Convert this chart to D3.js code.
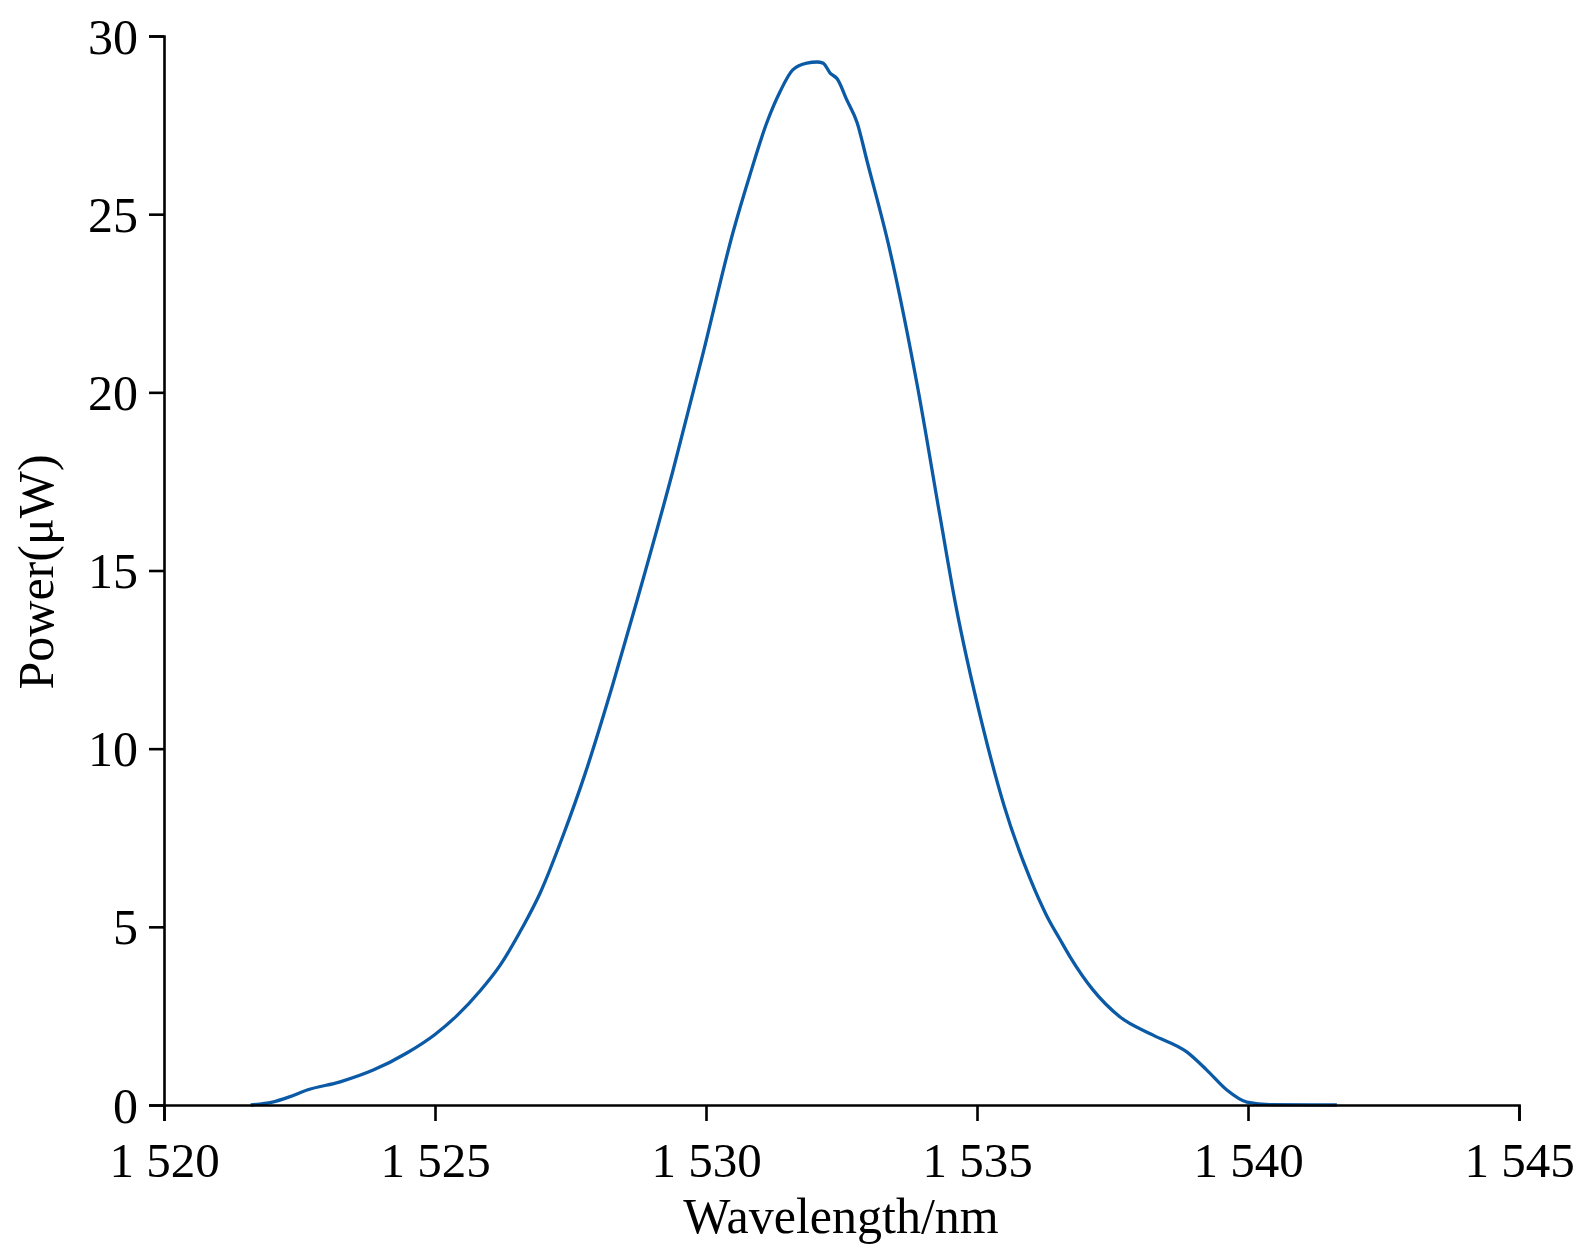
<!DOCTYPE html>
<html>
<head>
<meta charset="utf-8">
<script src="https://cdn.jsdelivr.net/npm/d3@7"></script>
<style>
  html, body { margin: 0; padding: 0; background: #fff; }
  svg { display: block; }
  text { font-family: "Liberation Serif", "Times New Roman", serif; fill: #000; }
</style>
</head>
<body>
<svg id="chart" width="1575" height="1250"></svg>
<script>
// Wavelength (nm)
const wavelength = [1521.6, 1522.0, 1522.3, 1522.64, 1523.25, 1523.86, 1524.48, 1525.0, 1525.4, 1525.83,
  1526.2, 1526.62, 1526.94, 1527.36, 1527.77, 1528.28, 1528.73, 1529.39, 1529.93, 1530.5,
  1530.81, 1531.13, 1531.37, 1531.6, 1531.86, 1532.05, 1532.16, 1532.29, 1532.42, 1532.6,
  1532.79, 1532.97, 1533.39, 1533.89, 1534.32, 1534.59, 1535.11, 1535.5, 1535.98, 1536.29,
  1536.53, 1536.72, 1537.14, 1537.64, 1538.25, 1538.87, 1539.24, 1539.61, 1539.98, 1540.4,
  1541.64];
// Power (µW)
const power = [0, 0.08, 0.22, 0.42, 0.65, 0.98, 1.46, 1.98, 2.5, 3.2,
  3.92, 5.0, 5.95, 7.55, 9.3, 11.8, 14.17, 17.8, 21.0, 24.5,
  26.1, 27.6, 28.45, 29.05, 29.24, 29.27, 29.24, 28.96, 28.8, 28.2,
  27.56, 26.5, 24.0, 20.26, 16.5, 14.17, 10.6, 8.4, 6.35, 5.3,
  4.65, 4.15, 3.23, 2.47, 1.96, 1.49, 0.98, 0.42, 0.08, 0.01,
  0];
const xTicks = [1520, 1525, 1530, 1535, 1540, 1545];
const yTicks = [0, 5, 10, 15, 20, 25, 30];

const svg = d3.select("#chart");
const x = d3.scaleLinear().domain([1520, 1545]).range([164, 1519]);
const y = d3.scaleLinear().domain([0, 30]).range([1105, 36]);
const fsX = 49, fsY = 50, fsT = 50;

// Curve
const data = wavelength.map((w, i) => ({ w, p: power[i] }));
svg.append("path")
  .datum(data)
  .attr("fill", "none")
  .attr("stroke", "#0b5aa6")
  .attr("stroke-width", 3.3)
  .attr("stroke-linejoin", "round")
  .attr("d", d3.line().x(d => x(d.w)).y(d => y(d.p)).curve(d3.curveMonotoneX));

// X axis
const xAxis = svg.append("g")
  .attr("transform", `translate(0,${y(0)})`)
  .call(d3.axisBottom(x).tickValues(xTicks).tickSizeOuter(0).tickSize(16)
    .tickFormat(d => { const s = String(d); return s[0] + " " + s.slice(1); }));
xAxis.select(".domain").attr("stroke", "#000").attr("stroke-width", 2.6);
xAxis.selectAll(".tick line").attr("stroke", "#000").attr("stroke-width", 2.6);
xAxis.selectAll(".tick text").attr("font-size", fsX).attr("font-family", "Liberation Serif")
  .attr("fill", "#000").attr("y", 37).attr("dy", "0.71em");

// Y axis
const yAxis = svg.append("g")
  .attr("transform", `translate(${x(1520)},0)`)
  .call(d3.axisLeft(y).tickValues(yTicks).tickSizeOuter(0).tickSize(15));
yAxis.select(".domain").attr("stroke", "#000").attr("stroke-width", 2.6);
yAxis.selectAll(".tick line").attr("stroke", "#000").attr("stroke-width", 2.6);
yAxis.selectAll(".tick text").attr("font-size", fsY).attr("font-family", "Liberation Serif")
  .attr("fill", "#000").attr("x", -26).attr("dy", "0.34em");

// Axis titles
svg.append("text")
  .attr("x", 841).attr("y", 1233)
  .attr("text-anchor", "middle")
  .attr("font-size", fsT)
  .text("Wavelength/nm");

svg.append("text")
  .attr("transform", `translate(53,572) rotate(-90)`)
  .attr("text-anchor", "middle")
  .attr("font-size", fsT)
  .text("Power(μW)");
</script>
</body>
</html>
